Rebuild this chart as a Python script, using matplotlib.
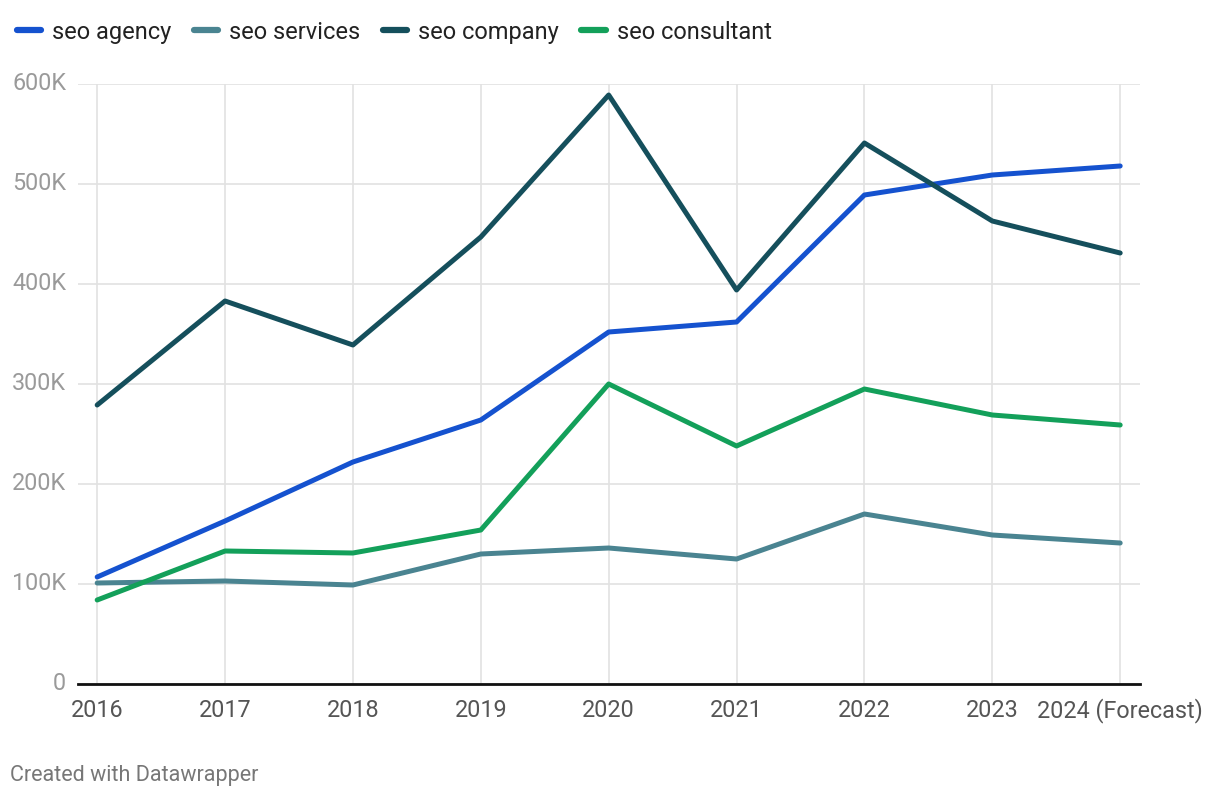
import matplotlib
matplotlib.use("Agg")
import matplotlib.pyplot as plt
from matplotlib.ticker import FuncFormatter

plt.rcParams['font.family'] = ['Roboto', 'DejaVu Sans']

# data
years = ["2016", "2017", "2018", "2019", "2020", "2021", "2022", "2023", "2024 (Forecast)"]
seo_agency = [107, 163, 222, 264, 352, 362, 489, 509, 518]
seo_services = [101, 103, 99, 130, 136, 125, 170, 149, 141]
seo_company = [279, 383, 339, 447, 589, 394, 541, 463, 431]
seo_consultant = [84, 133, 131, 154, 300, 238, 295, 269, 259]

series = [
    ("seo agency", seo_agency, "#1552cf"),
    ("seo services", seo_services, "#4a8491"),
    ("seo company", seo_company, "#154f5c"),
    ("seo consultant", seo_consultant, "#13a05a"),
]

fig = plt.figure(figsize=(12.2, 8), dpi=100)
ax = fig.add_axes([78 / 1220, 1 - 684 / 800, (1140 - 78) / 1220, 600 / 800])

x = list(range(len(years)))
for name, vals, col in series:
    ax.plot(x, [v * 1000 for v in vals], color=col, lw=3.6, label=name,
            solid_capstyle='round', solid_joinstyle='round', zorder=3)

ax.set_xlim(-0.15, 8.155)
ax.set_ylim(0, 600000)
ax.set_yticks(range(0, 600001, 100000))
ax.yaxis.set_major_formatter(FuncFormatter(lambda v, p: "0" if v == 0 else f"{int(v/1000)}K"))
ax.set_xticks(x)
ax.set_xticklabels(years)

ax.grid(True, color="#e2e2e2", lw=1.2, zorder=0)
for s in ["top", "right", "left"]:
    ax.spines[s].set_visible(False)
ax.spines["bottom"].set_color("#111111")
ax.spines["bottom"].set_linewidth(2)
ax.spines["bottom"].set_zorder(4)

ax.tick_params(axis="y", length=0, pad=8.5, labelsize=16.8, labelcolor="#9a9a9a")
ax.tick_params(axis="x", length=0, pad=24, labelsize=16.8, labelcolor="#555555")
for lab in ax.get_yticklabels():
    lab.set_verticalalignment("center")
for lab in ax.get_xticklabels():
    lab.set_verticalalignment("baseline")

leg = fig.legend(loc="upper left", bbox_to_anchor=(0.0, 1 - 4 / 800), ncol=4, frameon=False,
                 fontsize=17, handlelength=1.05, handletextpad=0.45, columnspacing=0.95,
                 borderaxespad=0.3)
for t in leg.get_texts():
    t.set_color("#222222")
for h in leg.get_lines():
    h.set_linewidth(4.5)
    h.set_solid_capstyle('round')

fig.text(10 / 1220, 1 - 776 / 800, "Created with Datawrapper", fontsize=15.5,
         color="#777777", va="center", ha="left")

fig.savefig("out.png", dpi=100)
